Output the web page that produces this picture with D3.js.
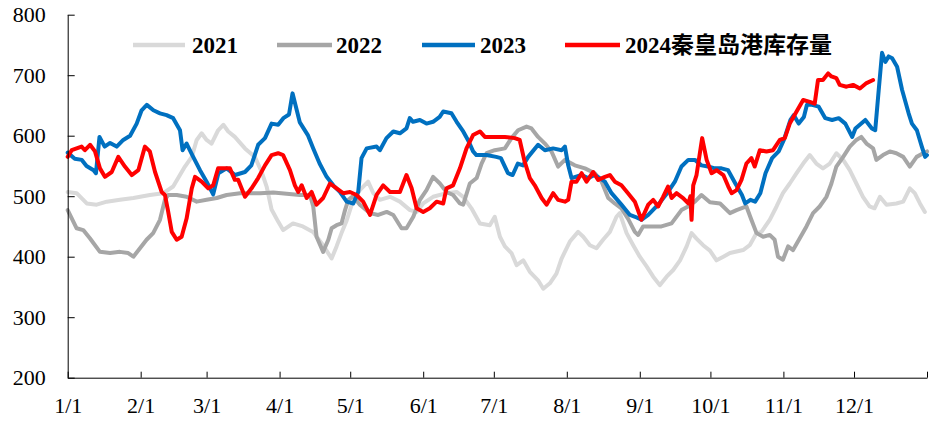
<!DOCTYPE html>
<html>
<head>
<meta charset="utf-8">
<script src="https://cdn.jsdelivr.net/npm/d3@7"></script>
<style>
  html, body { margin: 0; padding: 0; background: #fff; }
  svg { display: block; }
  .axis text { font-family: "Liberation Serif", "Times New Roman", serif; font-size: 22px; fill: #000; }
  .axis path, .axis line { stroke: #000; stroke-width: 1; }
</style>
</head>
<body>
<svg id="chart" width="930" height="422"></svg>
<script>
// ---- data (day of year, 0 = 1/1) ----
const seriesNames = ["2021", "2022", "2023", "2024秦皇岛港库存量"];
const yTicks = [200, 300, 400, 500, 600, 700, 800];

const days2021 = [0,3.8,8.1,12.3,16.6,22.2,27.9,34.9,40.6,44.8,49.8,52.7,54.8,56.9,59,61.1,63.9,66.1,68.2,71,75.3,79.5,82.4,84.5,86.6,89.4,91.5,95.7,99.9,104.2,108.5,112.1,114.2,116.3,118.5,121.3,124.1,127.6,129.8,132.6,136.9,141.1,145.4,148.2,151,155.2,160.9,165.2,168,171.5,175.1,179.3,181.4,183.6,185.7,188.5,190.7,193.5,196.3,199.8,202,204.8,207.6,209.8,213.3,216.8,219,221.8,224.6,227.4,230.3,233.1,234.5,237.4,240.2,243,245.9,248.7,251.5,254.4,257.2,260.1,262.9,265,267.1,269.9,272.8,275.6,278.5,281.3,286.9,289.7,292.6,294.7,298.2,301.1,303.8,306.7,309.6,312.4,315.2,318,320.8,323.7,326.5,329.4,332.2,335,337.8,340.6,342.7,345,347.8,352,354.9,357.7,359.8,362,364.1];
const val2021 = [507,505,488,486,491,494,497,502,505,516,549,565,593,604,593,587,609,618,607,598,579,565,540,516,478,458,444,455,450,441,419,397,417,439,460,494,510,524,505,494,499,491,477,474,488,499,505,507,499,480,455,452,466,433,417,406,386,394,375,361,347,356,372,397,425,441,433,419,414,428,441,466,472,439,419,400,384,367,353,367,378,394,417,439,430,419,410,394,400,406,411,419,439,441,461,483,505,521,538,554,568,554,546,554,571,560,543,521,499,483,480,499,486,488,491,513,505,488,474];

const days2022 = [0,3.8,6.6,9.5,13.7,18,22.2,25.7,27.9,30.7,33.5,36.3,39.2,41.3,42.7,46.3,50.5,54.8,59,63.3,67.5,73.2,81.7,87.3,93,98.6,102.9,104.3,105.7,108.5,110.7,112.1,114.2,116.3,117.8,119.2,121.2,124.1,128.4,131.9,135.5,138.3,141.8,143.9,146.8,149.6,152.4,155.2,158.1,160.9,163.7,166.6,168,170.8,173.7,175.8,177.9,181.4,185.7,188.5,191.3,194.9,197,199.8,202.7,205.5,208.3,211.2,215.4,219.7,223.9,226.8,229.6,232.4,235.2,238,240.9,242.3,244.4,248,252.2,256.5,260.7,263.5,266.4,269.2,272.8,277.1,281.3,284.1,288.3,290.4,292.6,295.4,298.2,300.3,301.7,303.8,306,308.1,310.9,313.8,316.6,319.4,322.3,324.4,326.5,329.4,332.2,335,337.1,339.3,342.1,343.5,346.3,349.2,352,354.9,357.7,360.6,363.4,365];
const val2022 = [477,447,444,430,408,406,408,406,400,414,428,439,461,494,502,502,499,491,494,497,502,505,505,506,504,502,502,483,433,408,428,447,452,455,477,494,500,486,472,469,474,469,447,447,466,494,510,532,521,507,502,488,486,521,530,554,571,576,579,596,609,615,612,598,587,574,549,560,551,546,538,524,497,488,480,463,441,436,450,450,450,455,477,483,491,502,490,488,472,477,483,461,439,433,436,428,400,395,417,411,430,450,472,483,499,521,549,565,582,593,598,587,579,560,568,574,571,565,549,565,571,574];

const days2023 = [0,3,6,8,11,12,13.5,15.7,18,20.8,23.6,26.5,29.3,31.4,33.6,36.4,39.2,42,44.8,47.7,48.8,50.5,53.3,56.2,59,61.8,64,67.5,71.1,75.3,78,80.9,83.8,86.6,89.4,91.6,94,95.5,98.6,102,104.3,107,110,112.8,115.6,118.5,121.3,123.4,124.8,127,131.2,132.6,135.4,138.3,141.1,143.9,145.3,146.7,149.6,152.4,155.2,158,159.5,163,165.2,168,170,172.2,173.6,177.9,182,184,187,189,191.2,193.4,195.6,199.8,202.7,206.2,209.8,211.2,212.6,214,218.3,221,223.9,228.2,231,235.2,238.8,241,243.7,246.6,250.8,255,257.9,260.7,263.6,266.4,269.2,272,274.9,277.7,280.5,283.6,286.4,287.8,290,292,294.2,296.4,299.2,302,304.2,307,308.4,310.5,312.7,314,316.2,319,321.8,324.7,327.5,330.3,333.2,334.6,338.8,341.6,343,344.5,345.9,347.3,348.7,350.2,352.3,354.4,357.2,358.6,360.7,362.8,364.2,365];
const val2023 = [572,562,560,550,543,538,598,582,588,582,593,600,620,642,651,642,637,634,629,609,576,587,565,543,524,503,538,546,535,540,551,585,596,620,618,629,635,670,622,601,579,554,532,518,507,491,488,507,563,579,582,576,596,607,604,612,629,623,626,620,623,631,640,637,623,607,593,574,568,568,565,563,538,535,554,551,565,585,576,579,576,582,551,530,535,530,535,524,505,486,469,466,461,469,486,507,524,549,560,560,551,549,546,546,543,521,502,488,494,491,505,538,563,574,593,626,634,620,631,651,651,648,629,626,629,620,598,612,626,612,609,676,737,722,731,728,714,676,637,620,609,582,565,568];

const days2024 = [0,1.7,5.9,7.3,9.5,11.6,13.7,15.8,18.7,21.5,24.3,27.2,30,32.8,34.9,37.1,39.9,41.3,42.7,44.2,46.3,48.4,50.5,52.7,54.1,56.9,59.7,61.8,63.9,66.8,68.9,71,72.4,75.3,78.1,80.9,83.8,86.6,89.4,91.5,94.4,96.5,97.9,99.4,101.5,103.6,105.7,108.5,111.4,114.2,117,119.9,122.7,125.5,128.4,131.2,134,136.9,141.1,143.9,146.1,148.2,151,153.8,156.7,159.5,160.9,163.7,166.6,169.4,172.2,175.1,177.2,180.7,185.7,189.9,192,194.1,196.3,198.4,201.3,203.4,206.2,208.3,211.2,212.6,214,216.1,218.3,220.4,223.2,225.3,228.2,230.3,232.4,235.2,238,240.9,243.7,246.6,248.7,250.8,252.9,255,256.5,258.6,261.4,263.6,264.5,265,265.7,267.1,269.5,271.4,273.5,275.6,278.5,280.6,282,284.1,286.2,288.3,290.4,291.8,294,296.8,299.6,302.5,304.6,306.7,309.6,312.4,315.2,317.3,318.7,320.8,323,324.4,326.5,327.9,330.8,333.6,336.5,339.3,342.1];
const val2024 = [565,576,582,576,585,574,546,532,540,565,549,535,543,582,574,540,507,502,474,441,428,433,463,513,532,524,513,518,546,546,546,527,527,499,513,530,551,568,571,568,543,518,507,518,497,507,486,497,521,513,505,507,502,491,469,502,518,507,507,535,513,480,474,480,491,488,513,518,546,579,601,607,598,598,598,596,593,557,530,518,497,486,505,494,491,494,524,524,538,524,540,527,532,535,524,518,505,491,461,486,494,483,499,516,497,505,497,488,500,461,518,535,596,560,538,543,535,516,505,510,527,554,563,549,576,574,576,593,596,620,640,659,656,653,692,692,703,698,695,684,681,684,678,687,692];

const allDays = [days2021, days2022, days2023, days2024];
const allVals = [val2021, val2022, val2023, val2024];
const colors = ["#d9d9d9", "#a6a6a6", "#0070c0", "#ff0000"];

// ---- layout ----
const W = 930, H = 422;
const x0 = 67.7, x1 = 927, yTop = 14.7, yBot = 377.7;
const svg = d3.select("#chart");

const base = new Date(2023, 0, 1);
const toDate = d => new Date(base.getTime() + d * 86400000);

const x = d3.scaleTime().domain([new Date(2023, 0, 1), new Date(2024, 0, 1)]).range([x0, x1]);
const y = d3.scaleLinear().domain([200, 800]).range([yBot, yTop]);

// series
const line = d3.line().x(p => x(toDate(p[0]))).y(p => y(p[1]));
allDays.forEach((ds, i) => {
  const pts = ds.map((d, j) => [d, allVals[i][j]]);
  svg.append("path")
    .datum(pts)
    .attr("d", line)
    .attr("fill", "none")
    .attr("stroke", colors[i])
    .attr("stroke-width", 4)
    .attr("stroke-linejoin", "round")
    .attr("stroke-linecap", "round");
});

// axes
const fmt = d3.timeFormat("%-m/%-d");
const xAxis = d3.axisBottom(x)
  .ticks(d3.timeMonth.every(1))
  .tickFormat(d => d.getFullYear() === 2024 ? "" : fmt(d))
  .tickSize(-6).tickSizeOuter(0).tickPadding(20);
svg.append("g").attr("class", "axis").attr("transform", `translate(0,${yBot})`).call(xAxis);

const yAxis = d3.axisLeft(y).tickValues(yTicks).tickSize(-7).tickSizeOuter(0).tickPadding(22);
svg.append("g").attr("class", "axis").attr("transform", `translate(${x0},0)`).call(yAxis);

// legend
const legendLines = [[133, 185], [277, 332], [422, 475], [565, 620]];
const legendText = [192, 336, 480, 625];
const ly = 45;
seriesNames.forEach((name, i) => {
  svg.append("line")
    .attr("x1", legendLines[i][0]).attr("x2", legendLines[i][1])
    .attr("y1", ly).attr("y2", ly)
    .attr("stroke", colors[i]).attr("stroke-width", 4.5);
  const t = svg.append("text")
    .attr("x", legendText[i]).attr("y", ly + 8)
    .attr("font-family", '"Liberation Serif", "Times New Roman", serif')
    .attr("font-weight", "bold").attr("font-size", 23).attr("fill", "#000");
  const m = name.match(/^(\d+)(.*)$/);
  t.append("tspan").text(m[1]);
  if (m[2]) {
    t.append("tspan")
      .attr("font-family", '"Noto Sans CJK SC", sans-serif')
      .attr("font-size", 23).attr("font-weight", "bold")
      .text(m[2]);
  }
});
</script>
</body>
</html>
